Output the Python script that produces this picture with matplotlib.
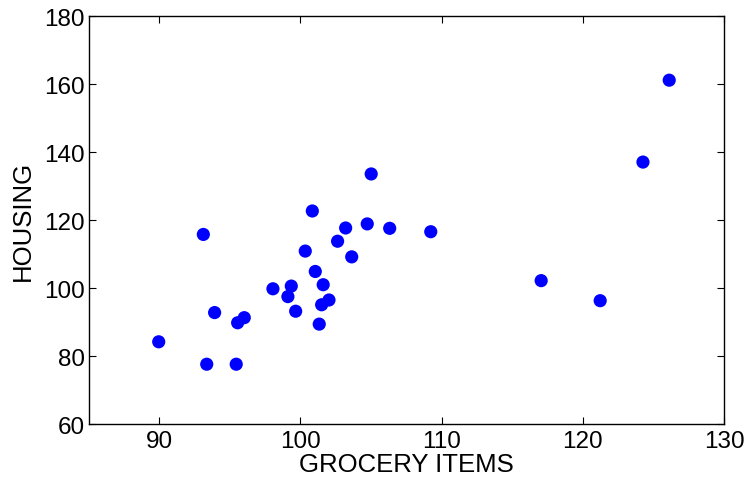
import matplotlib
matplotlib.use("Agg")
import matplotlib.pyplot as plt

grocery = [89.96, 93.12, 93.36, 93.92, 95.45, 95.55, 96.02, 98.05, 99.11, 99.35,
           99.66, 100.34, 100.84, 101.05, 101.33, 101.50, 101.61, 102.02, 102.63, 103.20,
           103.63, 104.73, 105.01, 106.32, 109.23, 117.05, 121.23, 124.26, 126.12]
housing = [84.2, 115.8, 77.6, 92.8, 77.6, 89.8, 91.3, 99.8, 97.5, 100.6,
           93.2, 110.9, 122.7, 104.9, 89.4, 95.1, 101.0, 96.5, 113.8, 117.7,
           109.2, 118.9, 133.6, 117.6, 116.6, 102.2, 96.3, 137.1, 161.2]
xticks = [90, 100, 110, 120, 130]
yticks = [60, 80, 100, 120, 140, 160, 180]

plt.rcParams['font.family'] = ['Liberation Sans', 'DejaVu Sans']
fig = plt.figure(figsize=(7.46, 4.81), dpi=100)
ax = fig.add_axes([0.1189, 0.1164, 0.9705 - 0.1189, 0.964 - 0.1164])
ax.scatter(grocery, housing, s=90, color='#0000ff', edgecolors='none', zorder=3)
ax.set_xlim(85, 130)
ax.set_ylim(60, 180)
ax.set_xticks(xticks)
ax.set_yticks(yticks)
ax.tick_params(direction='in', top=True, right=True, length=5, width=0.8,
               labelsize=17.5)
ax.tick_params(axis='x', pad=4)
ax.tick_params(axis='y', pad=3)
for sp in ax.spines.values():
    sp.set_linewidth(1.0)
ax.set_xlabel('GROCERY ITEMS', fontsize=18.5, labelpad=0)
ax.set_ylabel('HOUSING', fontsize=18.5, labelpad=6.5)
fig.savefig('out.png', dpi=100)
